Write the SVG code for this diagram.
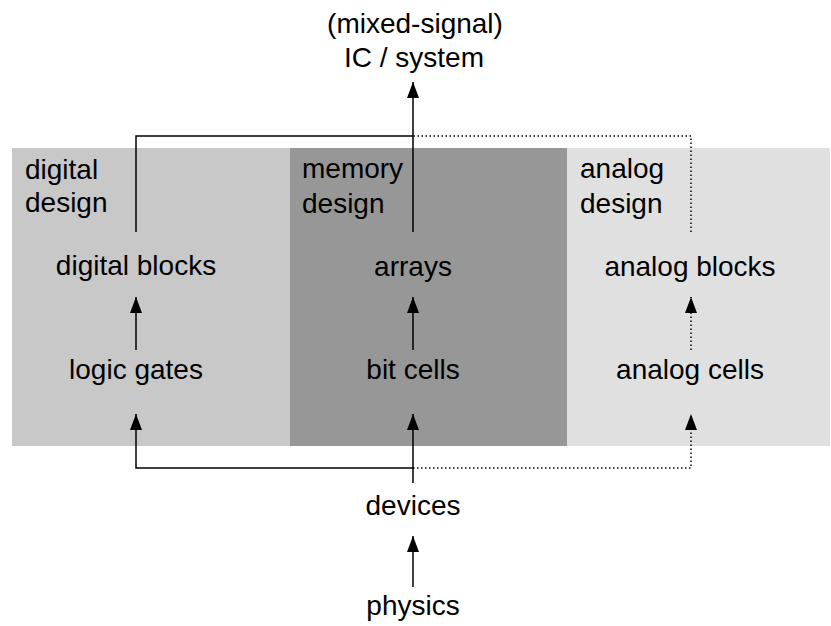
<svg xmlns="http://www.w3.org/2000/svg" width="831" height="626" viewBox="0 0 831 626">
  <defs>
    <marker id="head" markerUnits="userSpaceOnUse" markerWidth="16" markerHeight="12" refX="16" refY="6" orient="auto">
      <path d="M0,0 L16,6 L0,12 Z" fill="#000"/>
    </marker>
    <style>
      text { font-family: "Liberation Sans", Arial, sans-serif; font-size: 28px; fill: #000; }
      .c { text-anchor: middle; }
      .solid { fill: none; stroke: #000; stroke-width: 1.5; }
      .dot { fill: none; stroke: #000; stroke-width: 1.5; stroke-dasharray: 1.5 2.5; }
    </style>
  </defs>

  <!-- design domains -->
  <g id="digital-design">
    <rect x="12" y="148" width="278" height="298" fill="#c8c8c8"/>
    <text x="25" y="179">digital</text>
    <text x="25" y="212">design</text>
  </g>
  <g id="memory-design">
    <rect x="290" y="148" width="277" height="298" fill="#979797"/>
    <text x="302" y="178">memory</text>
    <text x="302" y="213">design</text>
  </g>
  <g id="analog-design">
    <rect x="567" y="148" width="263" height="298" fill="#e0e0e0"/>
    <text x="580" y="178">analog</text>
    <text x="580" y="213">design</text>
  </g>

  <!-- connectors -->
  <g id="connectors">
    <path class="solid" d="M413,587 L413,536" marker-end="url(#head)"/>
    <path class="solid" d="M413,483 L413,468 L136,468 L136,414" marker-end="url(#head)"/>
    <path class="solid" d="M413,468 L413,414" marker-end="url(#head)"/>
    <path class="dot" d="M413,468 L691,468 L691,414" marker-end="url(#head)"/>
    <path class="solid" d="M136,350 L136,297" marker-end="url(#head)"/>
    <path class="solid" d="M413,350 L413,297" marker-end="url(#head)"/>
    <path class="dot" d="M691,350 L691,297" marker-end="url(#head)"/>
    <path class="solid" d="M136,232 L136,136 L413,136"/>
    <path class="solid" d="M413,232 L413,82" marker-end="url(#head)"/>
    <path class="dot" d="M691,232 L691,136 L413,136"/>
  </g>

  <!-- nodes -->
  <g id="system"><text class="c" x="415" y="33">(mixed-signal)</text><text class="c" x="414" y="67">IC / system</text></g>
  <g id="digital-blocks"><text class="c" x="136" y="275">digital blocks</text></g>
  <g id="arrays"><text class="c" x="413" y="276">arrays</text></g>
  <g id="analog-blocks"><text class="c" x="690" y="276">analog blocks</text></g>
  <g id="logic-gates"><text class="c" x="136" y="379">logic gates</text></g>
  <g id="bit-cells"><text class="c" x="413" y="379">bit cells</text></g>
  <g id="analog-cells"><text class="c" x="690" y="379">analog cells</text></g>
  <g id="devices"><text class="c" x="413" y="515">devices</text></g>
  <g id="physics"><text class="c" x="413" y="615">physics</text></g>
</svg>
